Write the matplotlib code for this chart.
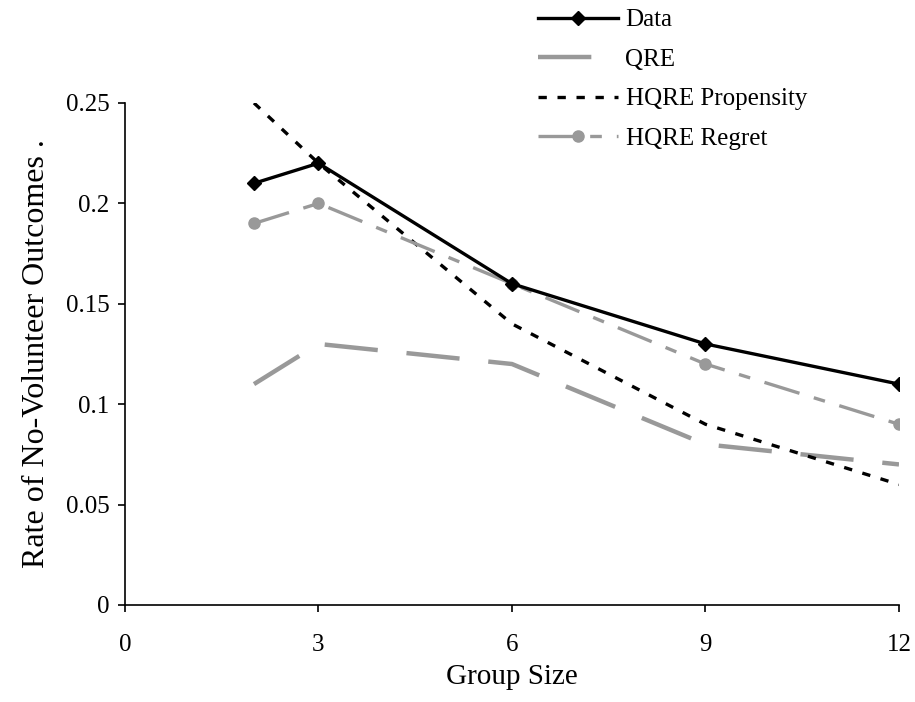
import matplotlib.pyplot as plt

plt.rcParams['font.family'] = ['Liberation Serif', 'DejaVu Serif']

# Données
group_size = [2, 3, 6, 9, 12]
data = [0.21, 0.22, 0.16, 0.13, 0.11]
qre = [0.11, 0.13, 0.12, 0.08, 0.07]
hqre_propensity = [0.25, 0.22, 0.14, 0.09, 0.06]
hqre_regret = [0.19, 0.20, 0.16, 0.12, 0.09]

gray = '#999999'

fig = plt.figure(figsize=(9.15, 7.02), dpi=100)
ax = fig.add_axes([0.1366, 0.1382, 0.8459, 0.7151])

ax.plot(group_size, data, color='black', lw=2.4, marker='D', ms=7, label='Data', zorder=5)
ax.plot(group_size, qre, color=gray, lw=3.2, linestyle=(0, (12, 6.5)), label='QRE')
ax.plot(group_size, hqre_propensity, color='black', lw=2.4, linestyle=(0, (2.5, 3.2)),
        label='HQRE Propensity')
ax.plot(group_size, hqre_regret, color=gray, lw=2.4, marker='o', ms=8,
        linestyle=(0, (11, 4.5, 3.5, 4.5)), label='HQRE Regret')

ax.set_xlim(0, 12)
ax.set_ylim(0, 0.25)
ax.set_xticks([0, 3, 6, 9, 12])
ax.set_yticks([0, 0.05, 0.1, 0.15, 0.2, 0.25])
ax.set_yticklabels(['0', '0.05', '0.1', '0.15', '0.2', '0.25'])
ax.spines['top'].set_visible(False)
ax.spines['right'].set_visible(False)
ax.spines['left'].set_linewidth(1.2)
ax.spines['bottom'].set_linewidth(1.2)
ax.tick_params(direction='out', length=5, width=1.2, labelsize=18)
ax.tick_params(axis='x', pad=16)
ax.tick_params(axis='y', pad=6)
ax.set_xlabel('Group Size', fontsize=21, labelpad=6)
ax.set_ylabel('Rate of No-Volunteer Outcomes .', fontsize=23, labelpad=11)

fig.legend(loc='upper left', bbox_to_anchor=(538 / 915, 1 - 9 / 702), frameon=False,
           fontsize=18, handlelength=3.2, handletextpad=0.3, labelspacing=0.68,
           borderaxespad=0, borderpad=0)

fig.savefig('out.png', dpi=100)
